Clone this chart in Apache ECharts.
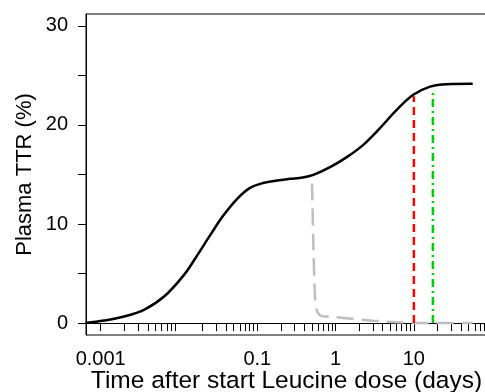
<!DOCTYPE html>
<html>
<head>
<meta charset="utf-8">
<script src="https://cdn.jsdelivr.net/npm/echarts@6/dist/echarts.min.js"></script>
<style>
  html, body {margin: 0; padding: 0; background: #fff;}
  #main {width: 485px; height: 392px;}
</style>
</head>
<body>
<div id="main"></div>
<script>
// values (days, %)
let plasmaT = [0.00064, 0.0011, 0.002, 0.00357, 0.00645, 0.0116, 0.0168, 0.0249, 0.0368, 0.0546, 0.0807, 0.119, 0.18, 0.262, 0.38, 0.519, 0.85, 1.39, 2.26, 3.69, 6.03, 9.82, 16.1, 26.2, 56.4];
let plasmaTTR = [0, 0.26, 0.67, 1.34, 2.68, 4.87, 6.75, 8.85, 10.85, 12.5, 13.65, 14.15, 14.4, 14.56, 14.7, 14.96, 15.74, 16.75, 17.99, 19.68, 21.52, 23.04, 23.87, 24.12, 24.15];
let washT = [0.5, 0.52, 0.545, 0.575, 0.62, 0.68, 1.0, 1.6, 3, 6, 10, 20, 56.4];
let washTTR = [14.1, 8, 2.7, 1.3, 0.85, 0.7, 0.6, 0.45, 0.25, 0.08, 0.02, 0, 0];
let redT = 10, redTop = 22.9;
let greenT = 17.5, greenTop = 23.6;

let xTicks = [];
[0.001, 0.01, 0.1, 1, 10].forEach(d => {
    for (let k = 1; k <= 9; k++) {
        let v = +(k * d).toPrecision(3);
        if (v !== 0.01) xTicks.push(v);
    }
});
xTicks.push(100);
let xLabels = [0.001, 0.1, 1, 10];
let yTicks = [0, 5, 10, 15, 20, 25, 30];
let yLabels = [0, 10, 20, 30];

let font = 'Liberation Sans, Arial, Helvetica, sans-serif';
let pairs = (a, b) => a.map((t, i) => [t, b[i]]);

let chart = echarts.init(document.getElementById('main'));
chart.setOption({
    animation: false,
    grid: {left: 86, right: -2, top: 14, bottom: 57, show: true, borderColor: '#000', borderWidth: 1, outerBoundsMode: 'none'},
    xAxis: {
        type: 'log', logBase: 10, min: 0.000649, max: 85.9,
        name: 'Time after start Leucine dose (days)', nameLocation: 'middle', nameGap: 34, nameMoveOverlap: false,
        nameTextStyle: {fontFamily: font, fontSize: 24.5, color: '#000'},
        axisLine: {lineStyle: {color: '#000', width: 1}},
        axisTick: {inside: false, length: 8, customValues: xTicks, lineStyle: {color: '#000'}},
        minorTick: {show: false},
        axisLabel: {customValues: xLabels, margin: 14, fontFamily: font, fontSize: 20, color: '#000',
            formatter: v => String(v)},
        splitLine: {show: false}
    },
    yAxis: {
        type: 'value', min: -1.2, max: 31.2,
        name: 'Plasma TTR (%)', nameLocation: 'middle', nameGap: 50, nameMoveOverlap: false,
        nameTextStyle: {fontFamily: font, fontSize: 22, color: '#000'},
        axisLine: {show: true, lineStyle: {color: '#000', width: 1}},
        axisTick: {show: true, length: 8, customValues: yTicks, lineStyle: {color: '#000'}},
        axisLabel: {customValues: yLabels, margin: 18, fontFamily: font, fontSize: 20, color: '#000'},
        splitLine: {show: false}
    },
    series: [
        {type: 'line', data: pairs(washT, washTTR), showSymbol: false, smooth: 0.2,
            lineStyle: {color: '#bebebe', width: 2.5, type: [17, 8]}},
        {type: 'line', data: [[redT, 0], [redT, redTop]], showSymbol: false,
            lineStyle: {color: '#ff0000', width: 2.5, type: [8, 5]}},
        {type: 'line', data: [[greenT, 0], [greenT, greenTop]], showSymbol: false,
            lineStyle: {color: '#00cc00', width: 2.5, type: [8, 4, 2, 4]}},
        {type: 'line', data: pairs(plasmaT, plasmaTTR), showSymbol: false, smooth: 0.35,
            lineStyle: {color: '#000', width: 2.5}}
    ]
});
</script>
</body>
</html>
